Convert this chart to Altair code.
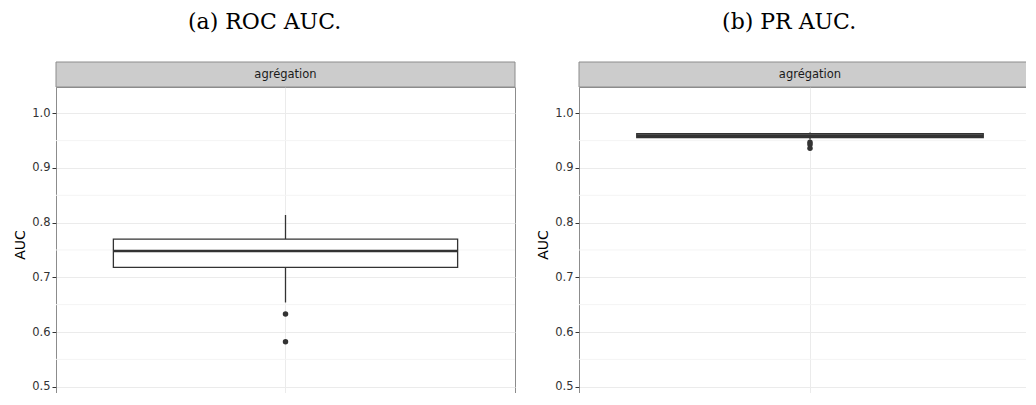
import altair as alt
import pandas as pd

# ---- data ----
panel_titles = ["(a) ROC AUC.", "(b) PR AUC."]
strip_label = "agrégation"
category = ["agrégation"]

# ROC AUC box statistics
roc_q1 = 0.718
roc_median = 0.748
roc_q3 = 0.770
roc_lower = 0.654
roc_upper = 0.814
roc_outliers = [0.633, 0.582]

# PR AUC box statistics
pr_q1 = 0.9555
pr_median = 0.959
pr_q3 = 0.9625
pr_lower = 0.952
pr_upper = 0.965
pr_outliers = [0.947, 0.943, 0.936]

major_ticks = [0.5, 0.6, 0.7, 0.8, 0.9, 1.0]
minor_ticks = [0.55, 0.65, 0.75, 0.85, 0.95]
y_domain = [0.472, 1.048]

W_LEFT, W_RIGHT, H = 459, 462, 315
STRIP = 25
DARK = "#333333"
BORDER = "#8c8c8c"


def panel(title, q1, med, q3, lo, hi, outs, W):
    stats = pd.DataFrame({"cat": category, "q1": [q1], "median": [med],
                          "q3": [q3], "lo": [lo], "hi": [hi]})
    out_df = pd.DataFrame({"cat": category * len(outs), "value": outs})
    minor_df = pd.DataFrame({"v": minor_ticks})
    strip_df = pd.DataFrame({"label": [strip_label]})

    xs = alt.Scale(domain=category, paddingInner=0, paddingOuter=1 / 6)
    ys = alt.Scale(domain=y_domain, nice=False, zero=False)
    xax = alt.Axis(title=None, labels=False, ticks=False, domain=False,
                   grid=True, gridColor="#ebebeb", gridWidth=1)
    yax = alt.Axis(title="AUC", values=major_ticks, format=".1f", grid=True,
                   gridColor="#ebebeb", gridWidth=1, domain=False,
                   tickColor=DARK, tickSize=4, labelPadding=2,
                   labelFont="DejaVu Sans", labelFontSize=11.5, labelColor=DARK,
                   titleFont="DejaVu Sans", titleFontSize=14, titleColor="black",
                   titleFontWeight="normal", titlePadding=4)

    def yenc(field):
        return alt.Y(field, scale=ys, axis=yax)

    xenc = alt.X("cat:N", scale=xs, axis=xax)

    minor = alt.Chart(minor_df).mark_rule(color="#f4f4f4", strokeWidth=1).encode(
        y=yenc("v:Q")
    )
    base = alt.Chart(stats)
    box = base.mark_bar(fill="white", stroke=DARK, strokeWidth=1.3).encode(
        x=xenc, y=yenc("q1:Q"), y2="q3:Q"
    )
    w_up = base.mark_rule(color=DARK, strokeWidth=1.3).encode(
        x=xenc, y=yenc("q3:Q"), y2="hi:Q"
    )
    w_lo = base.mark_rule(color=DARK, strokeWidth=1.3).encode(
        x=xenc, y=yenc("lo:Q"), y2="q1:Q"
    )
    median = base.mark_bar(fill="none", stroke=DARK, strokeWidth=2.6).encode(
        x=xenc, y=yenc("median:Q"), y2="median:Q"
    )
    points = alt.Chart(out_df).mark_circle(color=DARK, opacity=1, size=30).encode(
        x=xenc, y=yenc("value:Q")
    )
    strip = alt.Chart(strip_df).mark_rect(fill="#cccccc", stroke=BORDER, strokeWidth=1).encode(
        x=alt.value(0), x2=alt.value(W), y=alt.value(-STRIP), y2=alt.value(0)
    )
    strip_text = alt.Chart(strip_df).mark_text(
        font="DejaVu Sans", fontSize=11.5, color="#1a1a1a", baseline="middle"
    ).encode(x=alt.value(W / 2), y=alt.value(-STRIP / 2), text="label:N")

    return alt.layer(minor, box, w_up, w_lo, median, points, strip, strip_text).properties(
        width=W, height=H,
        title=alt.TitleParams(text=title, font="DejaVu Serif", fontSize=22,
                              fontWeight="normal", color="black", anchor="middle",
                              frame="bounds", offset=28),
    )


left = panel(panel_titles[0], roc_q1, roc_median, roc_q3, roc_lower, roc_upper,
             roc_outliers, W_LEFT)
right = panel(panel_titles[1], pr_q1, pr_median, pr_q3, pr_lower, pr_upper,
              pr_outliers, W_RIGHT)

chart = alt.hconcat(left, right, spacing=20).configure(
    padding={"left": 5, "top": 2, "right": -16, "bottom": -10}
).configure_view(stroke=BORDER, strokeWidth=1)

chart.save("out.html", embed_options={"renderer": "svg", "actions": False})
